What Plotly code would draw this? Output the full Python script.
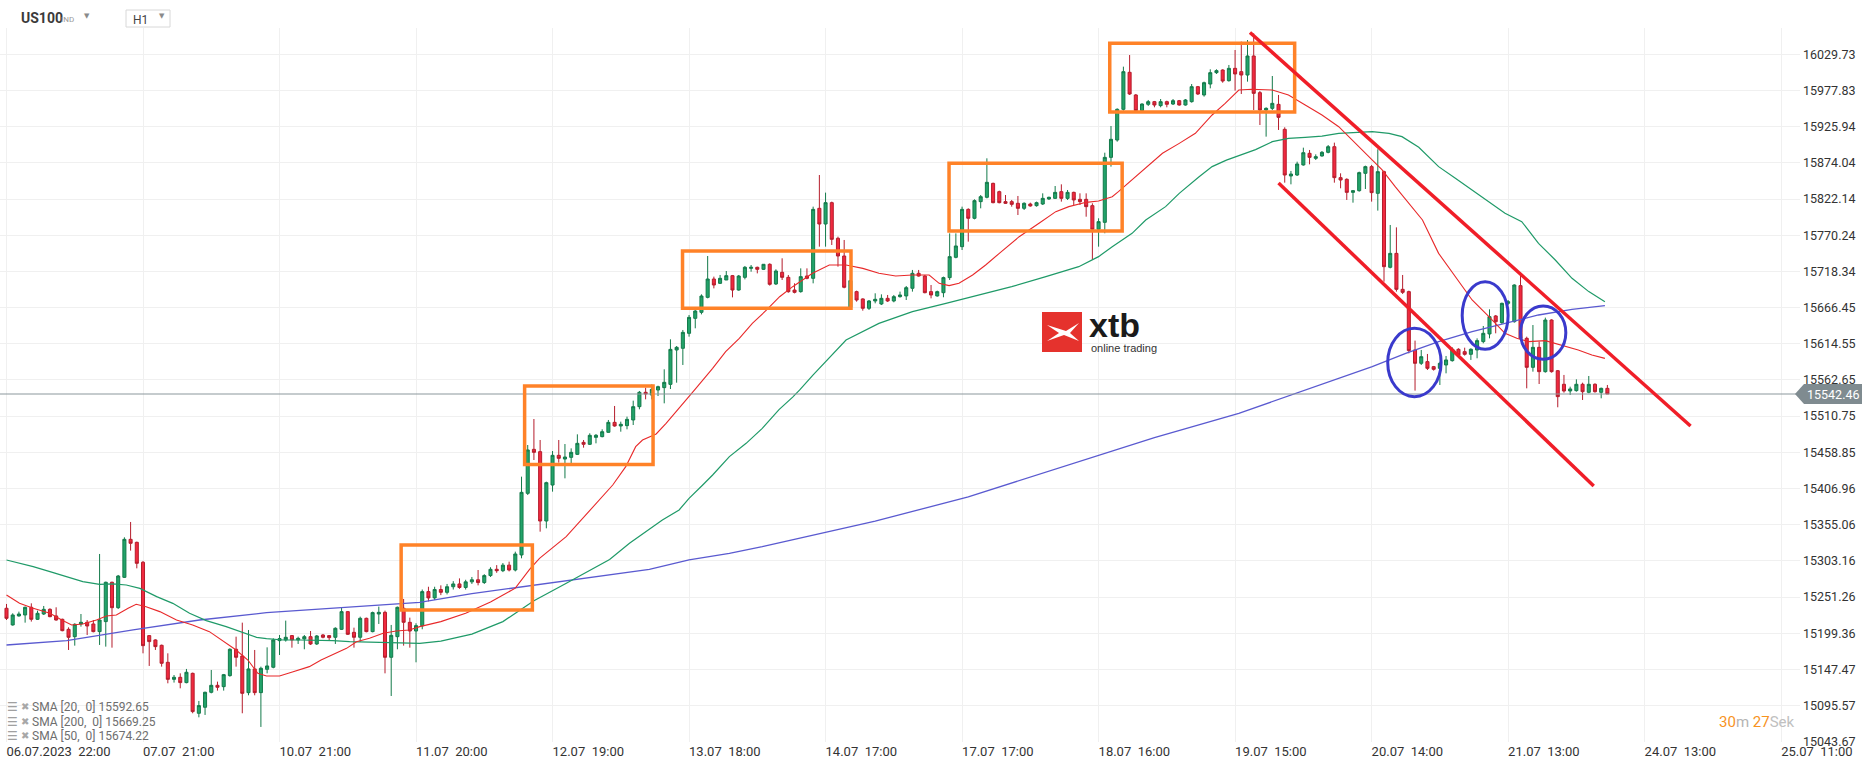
import plotly.graph_objects as go

# ---------------- data ----------------
opens = [15235.1,15211.2,15224.1,15225.5,15236.5,15219.3,15226.9,15233.6,15224.1,15219.3,
15204.9,15194.4,15212.6,15215.0,15212.6,15201.6,15216.0,15272.4,15236.0,15279.5,
15334.0,15329.7,15301.1,15195.9,15189.7,15182.0,15157.6,15133.2,15136.1,15128.5,
15141.8,15084.5,15093.1,15114.6,15124.6,15122.7,15138.5,15176.3,15166.7,15114.1,
15148.1,15114.1,15147.6,15150.5,15188.7,15189.7,15195.9,15189.7,15191.1,15194.4,
15183.9,15196.8,15195.9,15193.5,15204.9,15230.3,15200.6,15193.5,15220.7,15201.6,
15226.9,15229.3,15164.8,15194.4,15235.1,15215.0,15202.5,15210.0,15259.0,15250.0,
15262.0,15258.0,15266.0,15270.0,15265.0,15273.0,15276.0,15272.0,15282.0,15291.0,
15289.0,15297.0,15290.0,15311.6,15400.0,15463.1,15459.8,15360.3,15411.9,15454.5,
15449.2,15451.6,15455.9,15473.1,15470.3,15480.3,15481.3,15487.5,15501.8,15496.6,
15497.1,15505.2,15524.3,15544.9,15541.0,15548.2,15551.6,15556.3,15605.6,15608.0,
15629.5,15651.0,15659.6,15681.1,15707.4,15701.2,15706.0,15712.2,15691.6,15709.8,
15722.7,15724.2,15721.3,15728.5,15700.3,15717.0,15709.8,15691.6,15689.3,15711.7,
15708.4,15808.8,15786.3,15816.9,15765.8,15740.4,15666.8,15689.3,15678.8,15665.4,
15675.9,15671.6,15679.7,15675.9,15682.1,15683.1,15694.1,15715.6,15711.7,15689.3,
15683.1,15687.8,15709.4,15738.5,15753.8,15807.3,15794.5,15818.4,15824.6,15844.6,
15832.7,15818.4,15818.4,15816.0,15808.8,15815.0,15812.6,15815.0,15822.2,15823.1,
15832.7,15823.1,15831.7,15821.7,15821.7,15812.6,15778.7,15788.7,15881.9,15906.8,
15950.8,16003.9,15971.4,15948.9,15958.0,15961.8,15956.1,15961.8,15958.4,15963.2,
15957.0,15961.8,15983.3,15971.4,15987.1,16003.4,16007.2,15991.9,16009.6,16004.8,
16000.0,16027.3,15974.7,15949.8,15952.2,15957.9,15922.1,15855.2,15856.6,15871.0,
15887.7,15880.5,15883.9,15889.1,15897.2,15852.8,15850.4,15831.7,15834.1,15859.0,
15868.6,15830.3,15861.4,15724.2,15744.2,15692.6,15689.3,15605.6,15586.5,15588.9,
15581.7,15579.3,15584.1,15590.3,15606.6,15603.2,15599.4,15605.6,15617.6,15628.6,
15654.4,15644.8,15672.5,15646.2,15697.9,15622.3,15580.7,15609.4,15574.5,15648.6,
15575.9,15556.4,15546.8,15547.3,15556.4,15544.9,15556.4,15544.9,15550.6]

highs = [15241.3,15227.9,15230.3,15237.5,15242.2,15231.7,15238.4,15235.1,15236.5,15220.2,
15207.8,15213.6,15226.9,15218.3,15218.3,15313.0,15273.3,15273.3,15282.9,15336.9,
15358.9,15330.7,15303.0,15196.8,15190.6,15183.0,15170.5,15139.4,15141.8,15148.1,
15142.8,15102.2,15115.5,15146.6,15129.9,15140.9,15177.7,15194.4,15214.5,15204.0,
15175.3,15151.4,15179.1,15192.0,15196.8,15217.4,15196.8,15194.4,15196.8,15202.5,
15196.8,15198.3,15196.8,15207.8,15236.5,15231.2,15207.3,15223.1,15221.7,15230.3,
15237.5,15231.7,15211.2,15237.5,15248.5,15221.7,15213.6,15262.0,15266.0,15266.0,
15268.0,15270.0,15274.0,15278.0,15276.0,15280.0,15290.0,15284.0,15294.0,15297.0,
15300.0,15302.0,15316.3,15423.9,15469.3,15506.6,15476.5,15416.7,15460.7,15476.5,
15470.7,15464.5,15484.6,15476.5,15486.1,15485.1,15491.8,15505.2,15525.3,15502.8,
15510.0,15532.9,15546.8,15551.6,15556.3,15554.4,15577.9,15620.9,15611.3,15634.3,
15655.8,15663.0,15685.4,15740.4,15710.8,15713.2,15718.9,15713.2,15713.2,15726.1,
15727.5,15725.1,15728.9,15729.9,15721.3,15737.1,15713.2,15701.2,15722.7,15722.7,
15811.2,15856.6,15831.3,15818.4,15768.2,15763.4,15706.0,15690.7,15679.7,15677.3,
15686.9,15685.4,15684.5,15684.5,15689.3,15697.4,15720.4,15720.4,15713.2,15698.8,
15690.7,15710.8,15772.9,15772.9,15811.2,15808.8,15821.7,15827.9,15880.5,15845.6,
15834.1,15827.9,15820.8,15826.5,15817.4,15816.9,15818.4,15830.3,15825.5,15840.8,
15843.2,15835.1,15832.7,15830.3,15830.3,15816.0,15794.5,15888.6,15926.9,15952.2,
16012.0,16028.7,15972.8,15959.4,15964.2,15962.8,15965.6,15963.2,15965.6,15964.2,
15965.6,15987.1,15984.3,15990.5,16008.2,16008.2,16008.2,16014.4,16035.9,16047.9,
16050.2,16059.8,15977.1,15953.7,15998.6,15971.4,15925.0,15862.4,15875.7,15895.8,
15892.5,15886.2,15891.0,15899.6,15903.0,15859.0,15851.8,15835.1,15861.4,15870.0,
15871.0,15893.4,15862.8,15784.9,15781.5,15713.2,15690.7,15619.0,15605.6,15599.9,
15582.7,15588.9,15597.0,15609.4,15608.0,15608.9,15608.0,15622.3,15640.0,15663.9,
15655.8,15673.5,15677.3,15699.8,15717.0,15624.7,15641.4,15617.6,15652.0,15649.6,
15576.9,15569.8,15553.0,15563.5,15558.7,15568.3,15557.8,15551.6,15555.4]

lows = [15218.3,15210.2,15223.1,15214.5,15216.0,15218.3,15225.5,15222.2,15217.4,15202.1,
15175.3,15181.5,15208.8,15196.8,15200.6,15182.5,15180.1,15178.6,15234.1,15278.6,
15317.8,15292.4,15170.5,15152.4,15175.3,15151.4,15127.5,15128.5,15120.3,15127.5,
15084.5,15078.7,15082.1,15113.1,15117.0,15117.0,15137.0,15151.4,15084.5,15110.3,
15110.3,15064.9,15141.8,15149.0,15168.1,15187.3,15178.6,15183.9,15176.3,15182.5,
15182.5,15192.0,15188.2,15183.9,15204.0,15196.8,15178.6,15187.3,15200.6,15200.6,
15212.6,15141.8,15109.3,15176.3,15181.5,15178.6,15157.6,15205.0,15245.0,15247.0,
15254.0,15255.0,15262.0,15263.0,15262.0,15270.0,15268.0,15270.0,15280.0,15286.0,
15287.0,15288.0,15288.0,15306.8,15397.6,15447.8,15345.0,15349.8,15402.4,15444.0,
15421.5,15443.0,15455.0,15465.5,15469.3,15471.7,15480.3,15487.0,15495.6,15488.4,
15491.8,15498.0,15520.5,15534.8,15534.8,15539.6,15529.1,15549.6,15558.7,15584.1,
15624.7,15636.7,15656.7,15679.7,15694.0,15700.3,15706.0,15681.1,15690.7,15706.9,
15717.9,15715.5,15720.3,15697.9,15698.8,15706.0,15687.8,15686.8,15687.8,15707.0,
15701.2,15753.8,15753.8,15756.2,15725.1,15694.1,15665.4,15674.9,15662.0,15663.0,
15672.5,15670.1,15674.5,15674.0,15680.7,15677.3,15689.3,15710.8,15686.9,15679.7,
15682.1,15681.2,15706.0,15737.1,15749.0,15761.0,15793.0,15808.8,15823.1,15816.0,
15816.0,15815.0,15811.2,15799.2,15806.4,15811.2,15811.2,15813.6,15820.8,15822.2,
15818.4,15820.8,15813.6,15813.6,15796.8,15734.7,15753.8,15773.0,15868.6,15904.4,
15948.9,15971.4,15946.0,15947.5,15955.6,15953.7,15953.7,15953.7,15957.0,15956.1,
15956.1,15960.4,15971.4,15969.0,15980.9,16001.5,15989.0,15990.5,15977.6,15972.8,
15990.5,15949.8,15928.3,15911.6,15949.8,15921.2,15845.6,15843.2,15855.2,15870.0,
15871.9,15878.1,15882.9,15887.7,15845.6,15837.5,15820.8,15816.9,15832.7,15836.5,
15818.4,15805.5,15703.6,15722.7,15689.3,15685.9,15600.8,15547.3,15584.1,15576.9,
15576.0,15555.4,15572.1,15588.9,15597.0,15597.5,15591.3,15593.7,15615.2,15622.3,
15629.5,15642.9,15670.1,15644.8,15619.9,15550.6,15574.5,15556.8,15573.1,15573.1,
15523.4,15544.4,15541.1,15545.8,15533.9,15543.5,15544.4,15536.3,15542.5]

closes = [15220.7,15225.5,15226.9,15236.5,15219.3,15227.9,15233.6,15223.1,15218.3,15203.0,
15193.5,15212.1,15215.0,15209.7,15201.6,15218.3,15272.4,15236.0,15281.4,15334.0,
15328.3,15299.6,15181.5,15187.3,15180.1,15156.2,15133.2,15136.1,15128.5,15143.3,
15086.9,15095.5,15114.6,15124.6,15121.8,15139.9,15176.3,15164.8,15113.1,15148.1,
15114.1,15149.0,15152.4,15189.7,15191.6,15193.5,15189.7,15192.0,15194.4,15183.9,
15195.4,15193.5,15193.0,15206.4,15230.3,15197.8,15193.5,15220.7,15201.6,15228.9,
15229.3,15164.8,15196.3,15236.5,15215.0,15202.5,15210.2,15259.0,15250.0,15262.0,
15258.0,15266.0,15270.0,15265.0,15273.0,15276.0,15272.0,15282.0,15291.0,15289.0,
15297.0,15290.0,15313.0,15401.4,15462.2,15458.8,15360.3,15415.3,15454.5,15450.2,
15452.1,15458.8,15471.7,15470.3,15483.2,15483.2,15488.4,15501.8,15496.6,15499.0,
15506.1,15524.3,15544.9,15542.5,15549.2,15553.0,15559.2,15606.5,15609.4,15630.9,
15652.4,15661.5,15683.0,15707.4,15698.8,15708.4,15712.2,15691.6,15711.7,15724.2,
15724.2,15721.3,15728.5,15699.8,15718.9,15709.8,15689.2,15688.3,15710.8,15708.4,
15807.3,15786.3,15816.9,15764.3,15740.4,15695.5,15705.1,15677.3,15665.4,15675.9,
15678.3,15679.7,15675.9,15682.1,15684.5,15695.0,15715.6,15711.7,15687.8,15684.5,
15689.3,15709.4,15739.5,15754.8,15807.3,15794.5,15819.8,15825.5,15846.1,15816.9,
15816.9,15816.0,15814.5,15808.8,15816.0,15812.2,15816.9,15823.1,15824.6,15831.7,
15823.1,15831.7,15820.8,15818.4,15811.2,15778.7,15789.7,15881.9,15907.8,15950.8,
16004.8,15972.8,15948.9,15958.4,15961.8,15957.0,15961.8,15958.0,15963.2,15957.0,
15964.2,15983.3,15972.8,15989.0,16003.4,16006.3,15991.4,16009.6,16001.5,16000.0,
16027.3,15973.7,15949.8,15952.2,15959.4,15939.3,15856.6,15858.0,15872.4,15888.6,
15881.9,15882.9,15889.1,15897.2,15852.8,15849.4,15831.7,15834.1,15860.0,15868.6,
15831.3,15861.4,15725.1,15744.2,15692.6,15688.3,15604.7,15586.5,15596.0,15579.3,
15577.9,15586.5,15591.3,15606.6,15598.4,15599.4,15606.6,15619.0,15629.5,15653.4,
15646.2,15672.5,15674.9,15698.8,15622.3,15580.7,15609.4,15574.5,15648.6,15574.5,
15538.7,15546.8,15549.7,15556.4,15545.8,15556.4,15545.8,15550.6,15542.5]

sma20_x = [0,2.1,4.3,7,8.9,10.5,12.3,14.5,16.1,17.7,19.6,20.9,22.5,24.7,27.4,30,32.7,35.4,37,38.9,
40.5,41.9,44,46.2,48.8,50.7,52.6,54.8,56.4,58.5,60.7,62.8,64.9,66.6,70,74,78,82,84.3,85.9,
90.2,94.5,97.7,99.8,101.4,102.5,104.7,106.3,108.4,111.1,113.8,115.9,118.1,120.2,122.5,124.6,126.7,129.9,132.6,135.3,
138,140.6,143.3,146,148.7,150.3,151.9,153.5,155.7,157.8,160,163.2,166.4,169.1,171.2,174,176,178.2,179.2,181.4,
183.6,186.3,189,191.6,194.3,196.4,198.6,200.7,204,206.6,209.3,212,214.7,217.4,220.1,221.7,223.8,226,228.2,230.8,
233.5,236.2,238.9,241.5,243.4,245.3,248,250.6,253.3,255.5,257.6]
sma20_y = [15254.2,15242.2,15235.1,15227.9,15218.3,15211.1,15212.6,15218.3,15224.0,15225.5,15235.0,15240.8,15237.4,15230.3,15218.3,15211.1,15201.6,15185.8,15175.3,15160.9,
15141.8,15138.0,15138.0,15144.2,15151.4,15160.9,15168.1,15177.6,15187.2,15192.0,15199.2,15202.5,15204.0,15208.8,15216,15228,15244,15264,15291,15306.8,
15337.8,15380.9,15411.9,15438.2,15466.9,15476.5,15485.1,15500.4,15521.9,15550.6,15579.3,15603.2,15622.3,15643.8,15663,15682,15696.4,15715.6,15727.5,15727.5,
15722.7,15715.6,15711.7,15713.2,15713.2,15701.2,15697.9,15701.2,15713.2,15727.5,15744.2,15768.1,15787.3,15804,15811.2,15817.4,15819.3,15825.5,15832.7,15849.4,
15866.2,15887.7,15902,15916.4,15942.7,15959.4,15978.5,15979.5,15978.5,15971.3,15957,15942.7,15925.9,15902,15878.1,15863.8,15839.9,15816,15792.1,15744.2,
15710.8,15677.3,15653.4,15629.5,15622.3,15617.6,15619,15612.8,15605.6,15598.4,15593.6]

sma50_x = [0,4.3,7,9.7,12.3,15,17.2,19.3,21.5,24.2,26.8,29.5,32.2,35.4,38.6,40.3,41.9,44.6,47.2,49.9,
52.6,55.3,58,60.7,63.3,66.6,70,75,80,85,90,94,97.2,100.4,103.1,105.7,108.4,110,112.2,113.8,
116.5,119.2,121.8,124.5,126.7,127.8,130,135.3,140.6,146,151.4,156.7,162,167.5,172.8,176,178.2,181.4,183.6,186.8,
189,192.2,194.3,196.6,198.6,201.3,204,206.6,209.3,212,214.7,217.4,220.1,222.8,224.9,227.6,230.8,233.5,236.2,238.9,
241.5,244.2,246.9,249.6,252.3,255,257.6]
sma50_y = [15304.4,15294.8,15287.6,15280.5,15273.3,15269.5,15270,15268.5,15263.7,15251.8,15242.2,15227.9,15217.4,15208.8,15199.2,15193.5,15191.5,15189.6,15189.6,15189.6,
15188.7,15187.2,15186.8,15186.8,15186.3,15184.9,15188,15198,15216,15246,15270,15290,15305,15328.3,15345,15361.7,15376.1,15392.8,15411.9,15426.3,
15452.6,15471.7,15493.2,15520,15538,15548,15570,15619.9,15643.8,15660.6,15672.5,15684.5,15696.4,15710.8,15725.1,15739.5,15753.8,15772.9,15792.1,15811.2,
15830.3,15854.2,15868.6,15878,15884,15893,15904.4,15909.2,15910.6,15912.5,15916.4,15917.3,15918.8,15916.4,15911.6,15896.3,15868.6,15851.8,15835.1,15818.4,
15801.6,15789.7,15758.6,15734.7,15708.4,15689.3,15674.9]

sma200_x = [0,9.7,20.4,31.1,41.9,52.6,63.3,66.6,75,85,95,103.6,110,116.5,121.8,127.8,140,155,170,185,
198.6,204,209.3,214.7,220.1,225.5,230.8,236.2,241.5,246.9,252.3,257.6]
sma200_y = [15182.4,15188.7,15204,15218.3,15228.8,15235,15242.2,15243.6,15256,15268,15281,15291,15304.4,15314,15323.5,15335.5,15360,15395,15437,15480,
15514.8,15531.5,15548.2,15564.9,15581.7,15600.8,15617.6,15631.9,15643.8,15655.8,15663.9,15669.2]

x_tick_pos = [0,22,44,66,88,110,132,154,176,198,220,242,264,286]
x_tick_labels = ["06.07.2023  22:00","07.07  21:00","10.07  21:00","11.07  20:00","12.07  19:00",
                 "13.07  18:00","14.07  17:00","17.07  17:00","18.07  16:00","19.07  15:00",
                 "20.07  14:00","21.07  13:00","24.07  13:00","25.07  11:00"]
y_ticks = [16029.73,15977.83,15925.94,15874.04,15822.14,15770.24,15718.34,15666.45,15614.55,15562.65,
           15510.75,15458.85,15406.96,15355.06,15303.16,15251.26,15199.36,15147.47,15095.57,15043.67]

current_price = 15542.46
legend_rows = ["SMA [20,  0] 15592.65", "SMA [200,  0] 15669.25", "SMA [50,  0] 15674.22"]

# drawn annotations (data coordinates: candle index, price)
boxes = [(63.6, 84.75, 15232.7, 15325.9), (83.5, 104.2, 15441.3, 15553.9), (108.95, 136.1, 15665.4, 15747.6),
         (151.9, 179.8, 15776.3, 15873.4), (177.8, 207.6, 15947.0, 16045.5)]
channel = [((200.4, 16061.0), (271.4, 15496.6)), ((205.0, 15845.1), (255.8, 15410.5))]
ellipses = [(222.6, 231.2, 15538.6, 15636.7), (234.6, 242.0, 15606.6, 15703.6), (244.0, 251.3, 15592.2, 15668.7)]

# ---------------- figure ----------------
W, H = 1866, 767
ML, MR, MT, MB = 0, 66, 28, 25
PW, PH = W - ML - MR, H - MT - MB
SPACING = 6.205
X0 = 6.5
xr = [-X0 / SPACING, (PW - X0) / SPACING]
yr = [15043.3, 16067.45]

def px(xp):
    return (xp - ML) / PW

def py(yp):
    return (H - MB - yp) / PH

idx = list(range(len(closes)))
fig = go.Figure()
fig.add_trace(go.Candlestick(
    x=idx, open=opens, high=highs, low=lows, close=closes,
    increasing=dict(line=dict(color="#137a4a", width=1), fillcolor="#22a36a"),
    decreasing=dict(line=dict(color="#b51d2c", width=1), fillcolor="#f0293f"),
    showlegend=False, hoverinfo="skip"))
fig.add_trace(go.Scatter(x=sma200_x, y=sma200_y, mode="lines", line=dict(color="#5a5ad0", width=1.3), showlegend=False, hoverinfo="skip"))
fig.add_trace(go.Scatter(x=sma50_x, y=sma50_y, mode="lines", line=dict(color="#1f9a68", width=1.2), showlegend=False, hoverinfo="skip"))
fig.add_trace(go.Scatter(x=sma20_x, y=sma20_y, mode="lines", line=dict(color="#e8292a", width=1.1), showlegend=False, hoverinfo="skip"))

shapes = []
shapes.append(dict(type="line", xref="paper", yref="y", x0=0, x1=1, y0=current_price, y1=current_price,
                   line=dict(color="#8b979c", width=1), layer="above"))
for (a, b, lo, hi) in boxes:
    shapes.append(dict(type="rect", xref="x", yref="y", x0=a, x1=b, y0=lo, y1=hi,
                       line=dict(color="#ff8228", width=3.5), layer="above"))
for (p0, p1) in channel:
    shapes.append(dict(type="line", xref="x", yref="y", x0=p0[0], y0=p0[1], x1=p1[0], y1=p1[1],
                       line=dict(color="#f01e28", width=3.5), layer="above"))
for (a, b, lo, hi) in ellipses:
    shapes.append(dict(type="circle", xref="x", yref="y", x0=a, x1=b, y0=lo, y1=hi,
                       line=dict(color="#3a3acc", width=3), layer="above"))

# logo
shapes.append(dict(type="rect", xref="paper", yref="paper", x0=px(1030), x1=px(1158), y0=py(358), y1=py(305),
                   fillcolor="white", line=dict(width=0), layer="between"))
shapes.append(dict(type="rect", xref="paper", yref="paper", x0=px(1042), x1=px(1082), y0=py(352), y1=py(312),
                   fillcolor="#e5322d", line=dict(width=0), layer="above"))
shapes.append(dict(type="path", xref="paper", yref="paper",
                   path=f"M {px(1047)},{py(325)} L {px(1066)},{py(331)} L {px(1079)},{py(323)} L {px(1070)},{py(333)} "
                        f"L {px(1079)},{py(341)} L {px(1064)},{py(335)} L {px(1047)},{py(341)} L {px(1059)},{py(333)} Z",
                   fillcolor="white", line=dict(width=0), layer="above"))

# current price tag
shapes.append(dict(type="path", xref="paper", yref="paper",
                   path=f"M {px(1795)},{py(394)} L {px(1804)},{py(384)} L {px(1862)},{py(384)} L {px(1862)},{py(404)} L {px(1804)},{py(404)} Z",
                   fillcolor="#7f8b90", line=dict(width=0), layer="above"))
# H1 selector box
shapes.append(dict(type="rect", xref="paper", yref="paper", x0=px(126), x1=px(170), y0=py(27), y1=py(10),
                   fillcolor="white", line=dict(color="#d8d8d8", width=1), layer="above"))

ann = []
ann.append(dict(text="15542.46", x=px(1833), y=current_price, xref="paper", yref="y", showarrow=False,
                font=dict(family="Roboto", size=12.5, color="white"), xanchor="center", yanchor="middle"))
ann.append(dict(text="<b>xtb</b>", x=px(1087), y=py(325), xref="paper", yref="paper", showarrow=False,
                font=dict(family="Liberation Sans", size=34, color="#1b1b1b"), xanchor="left", yanchor="middle"))
ann.append(dict(text="online trading", x=px(1089), y=py(348), xref="paper", yref="paper", showarrow=False,
                font=dict(family="Liberation Sans", size=11, color="#333333"), xanchor="left", yanchor="middle"))
# header
ann.append(dict(text="<b>US100</b>", x=px(19), y=py(18), xref="paper", yref="paper", showarrow=False,
                font=dict(family="Roboto", size=14, color="#3a3a3a"), xanchor="left", yanchor="middle"))
ann.append(dict(text="IND", x=px(59), y=py(19), xref="paper", yref="paper", showarrow=False,
                font=dict(family="Roboto", size=8, color="#9a9a9a"), xanchor="left", yanchor="middle"))
ann.append(dict(text="▼", x=px(82), y=py(16), xref="paper", yref="paper", showarrow=False,
                font=dict(family="DejaVu Sans", size=7, color="#8a8a8a"), xanchor="left", yanchor="middle"))
ann.append(dict(text="H1", x=px(131), y=py(20), xref="paper", yref="paper", showarrow=False,
                font=dict(family="Roboto", size=12, color="#444444"), xanchor="left", yanchor="middle"))
ann.append(dict(text="▼", x=px(157), y=py(16), xref="paper", yref="paper", showarrow=False,
                font=dict(family="DejaVu Sans", size=7, color="#8a8a8a"), xanchor="left", yanchor="middle"))
# SMA legend rows
for k, row in enumerate(legend_rows):
    yy = [706.5, 721.5, 735.5][k]
    ann.append(dict(text="☰", x=px(5), y=py(yy), xref="paper", yref="paper", showarrow=False,
                    font=dict(family="DejaVu Sans", size=12, color="#a0a0a0"), xanchor="left", yanchor="middle"))
    ann.append(dict(text="✖", x=px(19), y=py(yy), xref="paper", yref="paper", showarrow=False,
                    font=dict(family="DejaVu Sans", size=10, color="#a8a8a8"), xanchor="left", yanchor="middle"))
    ann.append(dict(text=row, x=px(30), y=py(yy), xref="paper", yref="paper", showarrow=False,
                    font=dict(family="Roboto", size=12, color="#6e6e6e"), xanchor="left", yanchor="middle"))
# countdown
ann.append(dict(text="<span style='color:#f7931e'>30</span><span style='color:#b4b4b4'>m</span> "
                     "<span style='color:#f7931e'>27</span><span style='color:#c0c0c0'>Sek</span>",
                x=px(1797), y=py(722), xref="paper", yref="paper", showarrow=False,
                font=dict(family="Roboto", size=15), xanchor="right", yanchor="middle"))

fig.update_layout(
    width=W, height=H, margin=dict(l=ML, r=MR, t=MT, b=MB),
    paper_bgcolor="white", plot_bgcolor="white",
    font=dict(family="Roboto", size=13, color="#333333"),
    shapes=shapes, annotations=ann, boxgap=0.3, showlegend=False,
    xaxis=dict(range=xr, rangeslider=dict(visible=False), tickmode="array", tickvals=x_tick_pos,
               ticktext=[t.replace("  ", " \u00a0") for t in x_tick_labels],
               showgrid=True, gridcolor="#f0f0f0", gridwidth=1, zeroline=False, showline=False,
               ticks="", ticklabelposition="outside right", tickfont=dict(size=13, color="#333333"),
               fixedrange=True),
    yaxis=dict(range=yr, side="right", tickmode="array", tickvals=y_ticks, ticktext=[f"{v:.2f}" for v in y_ticks],
               showgrid=True, gridcolor="#f0f0f0", gridwidth=1, zeroline=False, showline=False, ticks="",
               tickfont=dict(size=12.5, color="#333333"), ticklabelstandoff=2, fixedrange=True),
)

fig.write_html("out.html", config={"displayModeBar": False},
               post_script="document.body.style.margin='0';document.body.style.overflow='hidden';")
